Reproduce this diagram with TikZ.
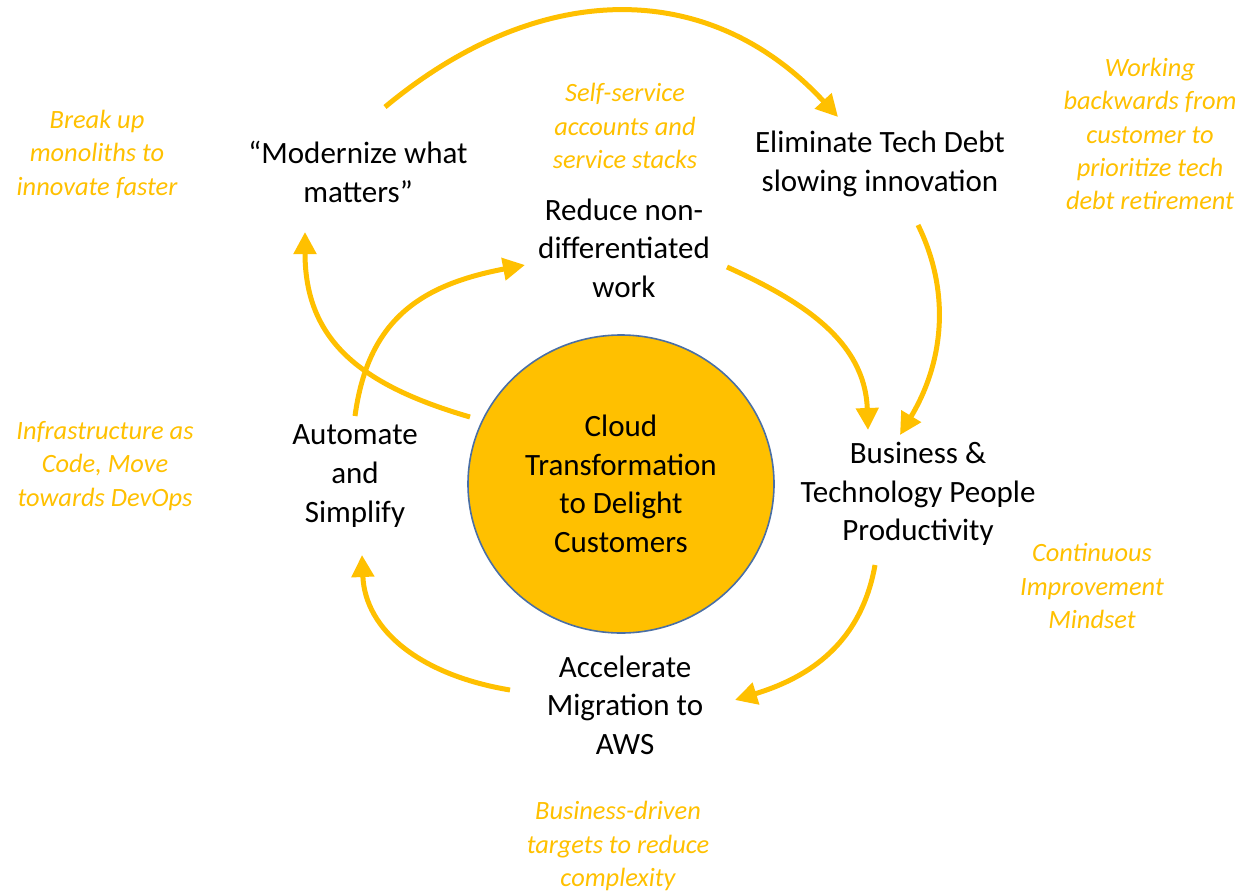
\documentclass[tikz,border=0pt]{standalone}
\usepackage{fontspec}
\setmainfont{Carlito}
\usepackage{tikz}
\usetikzlibrary{arrows.meta,shapes.geometric}
\definecolor{amber}{HTML}{FFC000}
\definecolor{ringblue}{HTML}{4A6FA5}
\tikzset{>={Triangle[length=11pt,width=11pt]}}
\tikzstyle{stage}=[align=center, inner sep=0pt, font=\fontsize{15.5}{19.3}\selectfont]
\tikzstyle{note}=[align=center, inner sep=0pt, text=amber, font=\fontsize{13.2}{16.7}\selectfont\itshape]
\tikzstyle{core}=[ellipse, draw=ringblue, line width=0.8pt, fill=amber, inner sep=0pt,
  minimum width=153pt, minimum height=149pt, align=center, font=\fontsize{15.5}{19.3}\selectfont]
\tikzstyle{flow}=[->, amber, line width=2.5pt]
\newcommand{\stage}{\node[stage]}
\newcommand{\note}{\node[note]}

\begin{document}
\begin{tikzpicture}[x=0.5pt, y=-0.5pt]
\useasboundingbox (0,0) rectangle (1252,894);
% centre
\node[core] (core) at (621,484) {Cloud\\Transformation\\to Delight\\Customers};
% stages
\stage (mod) at (358,172) {“Modernize what\\matters”};
\stage (elim) at (880,164) {Eliminate Tech Debt\\slowing innovation};
\stage (reduce) at (624,248) {Reduce non-\\differentiated\\work};
\stage (auto) at (355,476) {Automate\\and\\Simplify};
\stage (biz) at (918,494) {Business \&\\Technology People\\Productivity};
\stage (accel) at (625,705) {Accelerate\\Migration to\\AWS};
% notes
\note (break) at (97,154) {Break up\\monoliths to\\innovate faster};
\note (self) at (625,126) {Self-service\\accounts and\\service stacks};
\note (work) at (1150,134) {Working\\backwards from\\customer to\\prioritize tech\\debt retirement};
\note (infra) at (105,466) {Infrastructure as\\Code, Move\\towards DevOps};
\note (cont) at (1092,586) {Continuous\\Improvement\\Mindset};
\note (targ) at (618,846) {Business-driven\\targets to reduce\\complexity};
% arrow ends
\coordinate (modtail) at (385,107);
\coordinate (elimhead) at (838,117);
\coordinate (elimtail) at (918,225);
\coordinate (bizheadr) at (900,435);
\coordinate (reducetail) at (727,267);
\coordinate (bizheadl) at (868,430);
\coordinate (biztail) at (875,565);
\coordinate (accelhead) at (735,700);
\coordinate (acceltail) at (510,690);
\coordinate (autohead) at (362,555);
\coordinate (coretail) at (470,417);
\coordinate (modhead) at (305,232);
\coordinate (autotail) at (355,416);
\coordinate (reducehead) at (525,265);
% cycle
\draw[flow] (modtail) .. controls (540,-22) and (710,-22) .. (elimhead);
\draw[flow] (elimtail) .. controls (950,290) and (945,360) .. (bizheadr);
\draw[flow] (reducetail) .. controls (800,300) and (865,340) .. (bizheadl);
\draw[flow] (biztail) .. controls (860,650) and (800,680) .. (accelhead);
\draw[flow] (acceltail) .. controls (420,675) and (365,630) .. (autohead);
\draw[flow] (coretail) .. controls (360,385) and (305,340) .. (modhead);
\draw[flow] (autotail) .. controls (368,320) and (420,285) .. (reducehead);
\end{tikzpicture}
\end{document}
